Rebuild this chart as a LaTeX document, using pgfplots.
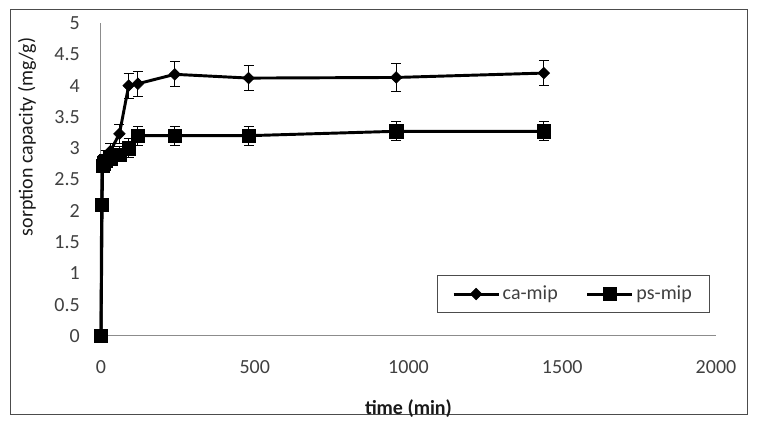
\documentclass[border=0pt]{standalone}
\usepackage{pgfplots}
\pgfplotsset{compat=1.18}
\usepackage{pgfplotstable}
\usepackage{fontspec}
\setmainfont{Carlito}
\definecolor{tickgray}{HTML}{404040}

\pgfplotstableread{
x y e
0 0 0
5 2.78 0.1
15 2.85 0.12
30 2.95 0.12
60 3.23 0.15
90 4.0 0.2
120 4.03 0.2
240 4.18 0.2
480 4.12 0.2
960 4.13 0.22
1440 4.2 0.2
}\camip

\pgfplotstableread{
x y e
0 0 0
2 2.1 0
5 2.72 0.1
10 2.76 0.1
15 2.8 0.1
30 2.84 0.12
60 2.9 0.12
90 3.0 0.15
120 3.2 0.15
240 3.2 0.15
480 3.2 0.15
960 3.27 0.15
1440 3.27 0.15
}\psmip

\begin{document}
\begin{tikzpicture}
\path[use as bounding box] (0,0) rectangle (568.5pt,321pt);
\draw[black!70, line width=0.75pt] (7.5pt,9.75pt) rectangle (560.25pt,313.5pt);
\begin{axis}[
  at={(75.75pt,69pt)}, anchor=origin,
  scale only axis, width=461.25pt, height=234.75pt,
  xmin=0, xmax=2000, ymin=0, ymax=5,
  axis x line=bottom, axis y line=left,
  axis line style={-, black!45, line width=0.75pt},
  xtick={0,500,1000,1500,2000},
  ytick={0,0.5,1,1.5,2,2.5,3,3.5,4,4.5,5},
  major tick length=0pt,
  /pgf/number format/assume math mode=true,
  /pgf/number format/.cd, fixed, 1000 sep={}, /pgfplots/.cd,
  tick label style={font=\fontsize{15}{18}\selectfont, text=tickgray},
  yticklabel style={anchor=east, inner sep=0pt, xshift=-15.75pt},
  xticklabel style={anchor=north, inner sep=0pt, yshift=-18pt},
  xlabel={\textbf{time (min)}},
  ylabel={sorption capacity (mg/g)},
  xlabel style={at={(rel axis cs:0.5,-0.2332)}, anchor=center, font=\fontsize{15}{18}\selectfont, text=black!90},
  ylabel style={at={(rel axis cs:-0.1203,0.636)}, anchor=center, font=\fontsize{15}{18}\selectfont, text=black!90},
  clip=false,
  legend columns=2,
  legend style={at={(rel axis cs:0.5463,0.1949)}, anchor=north west,
    draw=black!70, line width=0.75pt, font=\fontsize{15}{18}\selectfont, text=tickgray,
    inner xsep=11pt, inner ysep=6pt,
    /tikz/every even column/.append style={column sep=19pt}},
  legend cell align=left,
  legend image code/.code={\draw[#1] (0pt,0pt) -- (33.75pt,0pt);
     \path[#1] plot coordinates {(16.9pt,0pt)};},
]
\addplot[black, line width=2.2pt, mark=square*, mark size=3.1pt,
  mark options={rotate=45, line width=0.4pt, solid},
  error bars/.cd, y dir=both, y explicit,
  error bar style={line width=0.75pt, black},
  error mark options={rotate=90, mark size=3.75pt, line width=0.75pt, black}]
  table[x=x, y=y, y error=e] {\camip};
\addlegendentry{ca-mip}
\addplot[black, line width=2.2pt, mark=square*, mark size=5pt,
  mark options={line width=0.4pt, solid},
  error bars/.cd, y dir=both, y explicit,
  error bar style={line width=0.75pt, black},
  error mark options={rotate=90, mark size=3.75pt, line width=0.75pt, black}]
  table[x=x, y=y, y error=e] {\psmip};
\addlegendentry{ps-mip}
\end{axis}
\end{tikzpicture}
\end{document}
